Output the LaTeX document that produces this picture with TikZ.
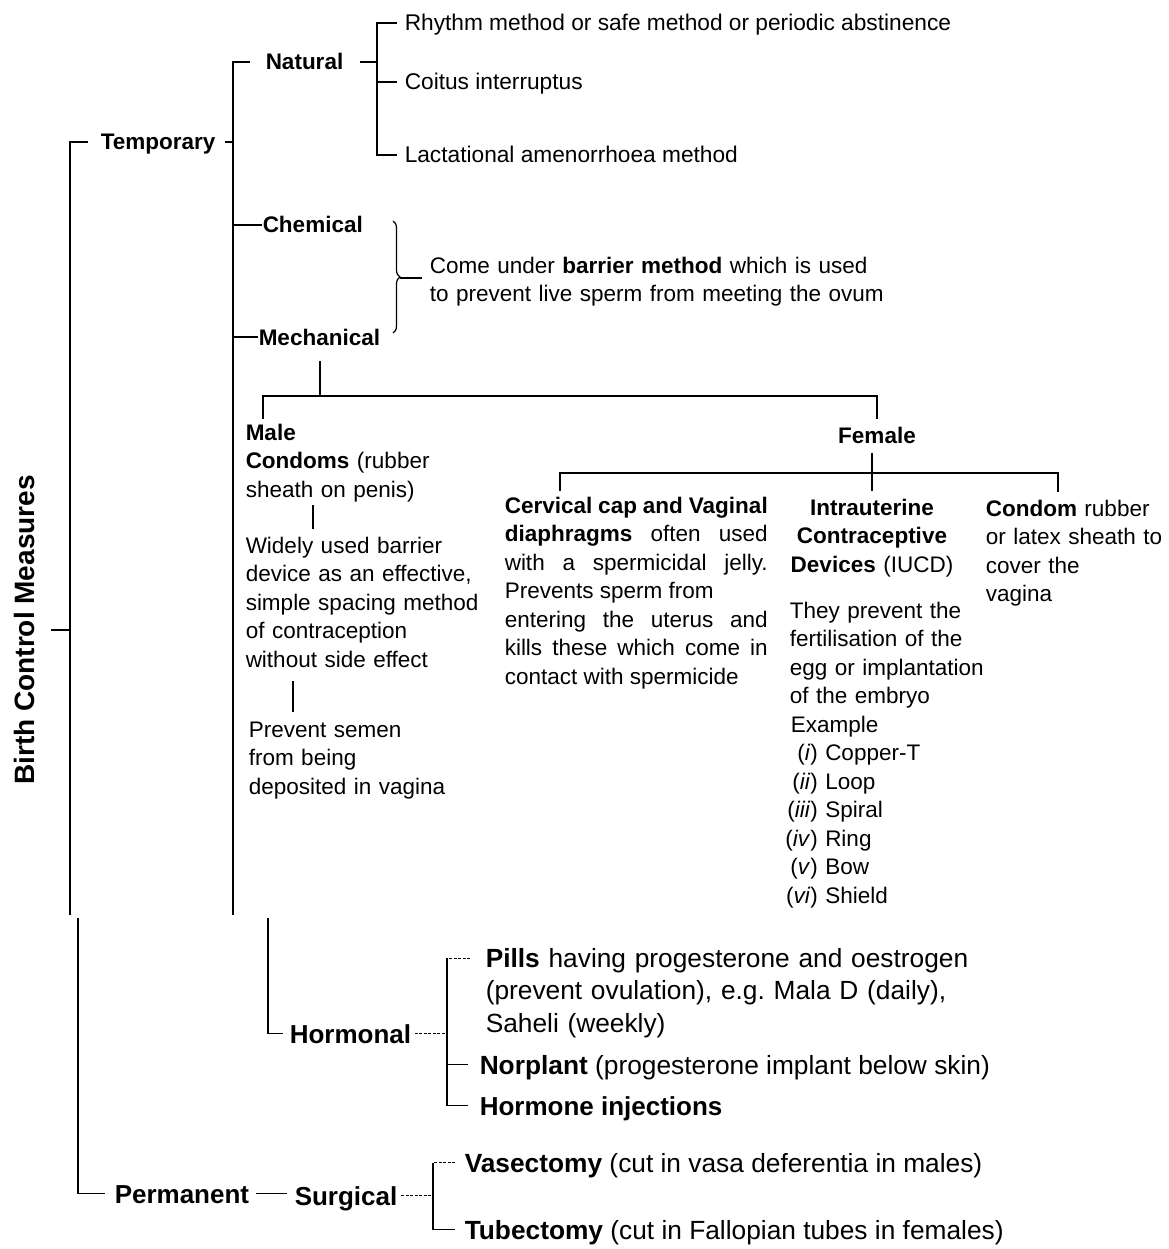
\documentclass[tikz,border=0pt]{standalone}
\usepackage{fontspec}
\setmainfont{Liberation Sans}
\usepackage{tikz}
\usetikzlibrary{positioning}
\usetikzlibrary{decorations.pathreplacing}
\setlength{\parindent}{0pt}
\newcommand{\exnum}[1]{\makebox[30pt][r]{(\textit{#1})}}

\begin{document}
\begin{tikzpicture}[x=1pt,y=-1pt,line width=1.5pt,
    toplabel/.style={inner sep=0pt,anchor=base west,font=\fontsize{22.5}{28.5}\selectfont\bfseries,text height=16pt,text depth=0pt},
    topline/.style={inner sep=0pt,anchor=base west,font=\fontsize{22.7}{28.5}\selectfont,text height=16pt,text depth=0pt},
    topblock/.style={inner sep=0pt,anchor=base west,align=left,text width=240pt,font=\fontsize{22.5}{28.5}\selectfont},
    lowlabel/.style={inner sep=0pt,anchor=base west,font=\fontsize{26}{32.5}\selectfont\bfseries,text height=18.6pt,text depth=0pt},
    lowline/.style={inner sep=0pt,anchor=base west,font=\fontsize{26.3}{32.5}\selectfont,text height=18.6pt,text depth=0pt},
    lowblock/.style={inner sep=0pt,anchor=base west,align=left,text width=520pt,font=\fontsize{26.3}{32.5}\selectfont},
    dashtick/.style={line width=1pt,dash pattern=on 3pt off 1.5pt}]

    \useasboundingbox (0,0) rectangle (1168,1249);

    %draw title
    \node[rotate=90,inner sep=0pt,font=\fontsize{28}{34}\selectfont\bfseries] (title) at (24,630) {Birth Control Measures};

    %draw main groups
    \node[toplabel] (temp) at (100,150) {Temporary};
    \node[lowlabel] (perm) at (114,1203) {Permanent};

    %draw kinds of methods
    \node[toplabel] (natural) at (265,70) {Natural};
    \node[toplabel] (chem) at (262,233) {Chemical};
    \node[toplabel] (mech) at (258,345) {Mechanical};
    \node[lowlabel] (horm) at (289,1043) {Hormonal};
    \node[lowlabel] (surg) at (294,1205) {Surgical};

    %draw natural methods
    \node[topline] (rhythm) at (404,31) {Rhythm method or safe method or periodic abstinence};
    \node[topline] (coitus) at (404,90) {Coitus interruptus};
    \node[topline] (lact) at (404,163) {Lactational amenorrhoea method};

    %draw barrier note
    \node[topblock,text width=470pt] (barrier) at (429,273) {Come under \textbf{barrier method} which is used\\to prevent live sperm from meeting the ovum};

    %draw male side
    \node[topblock] (male) at (245,440) {\textbf{Male}\\\textbf{Condoms} (rubber\\sheath on penis)};
    \node[topblock] (widely) at (245,553) {Widely used barrier\\device as an effective,\\simple spacing method\\of contraception\\without side effect};
    \node[topblock] (semen) at (248,737) {Prevent semen\\from being\\deposited in vagina};

    %draw female side
    \node[toplabel,anchor=base] (female) at (877,443) {Female};
    \node[topblock,text width=263pt,align=justify] (cerv) at (504,513) {\textbf{Cervical cap and Vaginal}\linebreak \textbf{diaphragms} often used\linebreak with a spermicidal jelly.\linebreak Prevents sperm from\newline entering the uterus and\linebreak kills these which come in\linebreak contact with spermicide};
    \node[topblock,anchor=base,align=center,text width=180pt] (iucd) at (872,515) {\textbf{Intrauterine}\\\textbf{Contraceptive}\\\textbf{Devices} (IUCD)};
    \node[topblock,text width=200pt] (iucdtxt) at (789,618) {They prevent the\\fertilisation of the\\egg or implantation\\of the embryo};
    \node[topblock,text width=200pt] (examples) at (787,732) {\hspace*{3pt}Example\\\exnum{i} Copper-T\\\exnum{ii} Loop\\\exnum{iii} Spiral\\\exnum{iv} Ring\\\exnum{v} Bow\\\exnum{vi} Shield};
    \node[topblock,text width=180pt] (cond) at (985,516) {\textbf{Condom} rubber\\or latex sheath to\\cover the\\vagina};

    %draw hormonal methods
    \node[lowblock] (pills) at (485,967) {\textbf{Pills} having progesterone and oestrogen\\(prevent ovulation), e.g.\ Mala D (daily),\\Saheli (weekly)};
    \node[lowline] (norplant) at (479,1074) {\textbf{Norplant} (progesterone implant below skin)};
    \node[lowlabel] (hinj) at (479,1115) {Hormone injections};

    %draw surgical methods
    \node[lowline] (vas) at (464,1172) {\textbf{Vasectomy} (cut in vasa deferentia in males)};
    \node[lowline] (tub) at (464,1239) {\textbf{Tubectomy} (cut in Fallopian tubes in females)};

    %spine coordinates
    \coordinate (outerup) at (70,915);
    \coordinate (outerlow) at (78,918);
    \coordinate (tempup) at (233,915);
    \coordinate (hormlow) at (268,918);
    \coordinate (natspine) at (377,0);
    \coordinate (hormspine) at (447,0);
    \coordinate (surgspine) at (433,0);
    \coordinate (mechjoin) at (320,396);
    \coordinate (femjoin) at (872,473);
    \coordinate (bracetop) at (393,221);
    \coordinate (bracebot) at (393,333);
    \coordinate (bracetip) at (400,278);
    \coordinate (pillsleft) at ([yshift=9pt]pills.base west);

    %draw outer bracket
    \draw ([xshift=-12pt]temp.west) -| (outerup);
    \draw (outerlow) |- ([xshift=-9pt]perm.west);
    \draw ([xshift=16pt]title.south) -- (title.south -| outerup);

    %draw temporary bracket
    \draw ([xshift=9pt]temp.east) -- (temp.east -| tempup);
    \draw ([xshift=-15pt]natural.west) -| (tempup);
    \draw (chem.west) -- (chem.west -| tempup);
    \draw (mech.west) -- (mech.west -| tempup);
    \draw (hormlow) |- ([xshift=-6pt]horm.west);

    %draw natural bracket
    \draw ([xshift=16pt]natural.east) -- (natural.east -| natspine);
    \draw ([xshift=-7pt]rhythm.west) -| (lact.west -| natspine) -- ([xshift=-7pt]lact.west);
    \draw ([xshift=-7pt]coitus.west) -- (coitus.west -| natspine);

    %draw brace
    \draw[line width=1.2pt,decorate,decoration={brace,amplitude=7pt}] (bracetop) -- (bracebot);
    \draw[line width=1.2pt,shorten >=7pt] (bracetip) -- (bracetip -| barrier.west);

    %draw mechanical split
    \draw ([yshift=-15pt]mech.south -| mechjoin) -- (mechjoin);
    \draw ([shift={(18pt,4pt)}]male.north west) |- (mechjoin) -| ([yshift=7pt]female.north);
    \draw ([shift={(68pt,-3pt)}]male.south west) -- ([shift={(68pt,7pt)}]widely.north west);
    \draw ([shift={(48pt,-13pt)}]widely.south west) -- ([shift={(45pt,9pt)}]semen.north west);

    %draw female split
    \draw ([xshift=-5pt,yshift=-9pt]female.south) -- (femjoin);
    \draw ([shift={(56pt,5pt)}]cerv.north west) |- (femjoin) -| ([shift={(73pt,7pt)}]cond.north west);
    \draw ([yshift=7pt]iucd.north) -- (iucd.north |- femjoin);

    %draw hormonal bracket
    \draw[dashtick] ([xshift=3pt]horm.east) -- (horm.east -| hormspine);
    \draw[dashtick] ([xshift=-15pt]pillsleft) -- (pillsleft -| hormspine);
    \draw (pillsleft -| hormspine) |- ([xshift=-11pt]hinj.west);
    \draw ([xshift=-11pt]norplant.west) -- (norplant.west -| hormspine);

    %draw surgical bracket
    \draw[line width=1pt,shorten <=6pt,shorten >=7pt] (perm.east) -- (perm.east -| surg.west);
    \draw[dashtick] ([xshift=3pt]surg.east) -- (surg.east -| surgspine);
    \draw[dashtick] ([xshift=-9pt]vas.west) -- (vas.west -| surgspine);
    \draw (vas.west -| surgspine) |- ([xshift=-9pt]tub.west);

\end{tikzpicture}
\end{document}
